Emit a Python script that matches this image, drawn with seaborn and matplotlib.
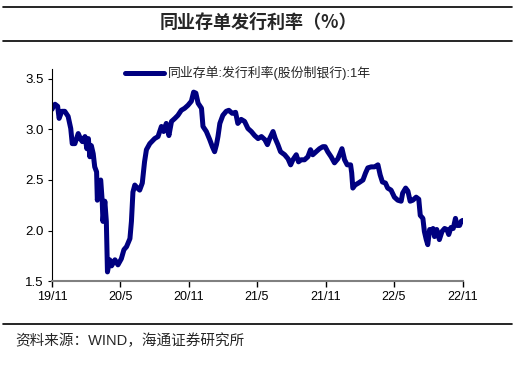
import pandas as pd
import numpy as np
import matplotlib
matplotlib.use('Agg')
import matplotlib.pyplot as plt
from matplotlib.lines import Line2D
import seaborn as sns

# 数据：同业存单发行利率（股份制银行，1年）
dates = [
    '2019-11-01', '2019-11-05', '2019-11-09', '2019-11-16', '2019-11-20', '2019-11-27',
    '2019-12-05', '2019-12-14', '2019-12-21', '2019-12-25', '2020-01-01', '2020-01-10',
    '2020-01-17', '2020-01-21', '2020-01-28', '2020-02-02', '2020-02-06', '2020-02-10',
    '2020-02-14', '2020-02-19', '2020-02-23', '2020-02-28', '2020-03-01', '2020-03-06',
    '2020-03-10', '2020-03-14', '2020-03-16', '2020-03-21', '2020-03-25', '2020-03-28',
    '2020-04-03', '2020-04-08', '2020-04-17', '2020-04-25', '2020-05-04', '2020-05-11',
    '2020-05-18', '2020-05-27', '2020-05-31', '2020-06-04', '2020-06-09', '2020-06-16',
    '2020-06-22', '2020-06-29', '2020-07-05', '2020-07-10', '2020-07-19', '2020-08-01',
    '2020-08-10', '2020-08-19', '2020-08-25', '2020-09-01', '2020-09-08', '2020-09-15',
    '2020-09-24', '2020-10-02', '2020-10-11', '2020-10-20', '2020-10-29', '2020-11-07',
    '2020-11-13', '2020-11-19', '2020-11-25', '2020-12-04', '2020-12-08', '2020-12-17',
    '2020-12-26', '2021-01-02', '2021-01-08', '2021-01-13', '2021-01-17', '2021-01-22',
    '2021-01-30', '2021-02-08', '2021-02-15', '2021-02-24', '2021-03-05', '2021-03-11',
    '2021-03-20', '2021-03-29', '2021-04-07', '2021-04-16', '2021-04-25', '2021-05-04',
    '2021-05-13', '2021-05-22', '2021-05-29', '2021-06-04', '2021-06-13', '2021-06-19',
    '2021-06-26', '2021-07-03', '2021-07-14', '2021-07-23', '2021-07-30', '2021-08-05',
    '2021-08-14', '2021-08-20', '2021-08-27', '2021-09-05', '2021-09-14', '2021-09-21',
    '2021-09-27', '2021-10-06', '2021-10-15', '2021-10-24', '2021-10-30', '2021-11-06',
    '2021-11-15', '2021-11-24', '2021-12-03', '2021-12-14', '2021-12-21', '2021-12-28',
    '2022-01-06', '2022-01-09', '2022-01-12', '2022-01-18', '2022-01-27', '2022-02-08',
    '2022-02-15', '2022-02-21', '2022-03-02', '2022-03-11', '2022-03-20', '2022-03-26',
    '2022-04-01', '2022-04-09', '2022-04-15', '2022-04-24', '2022-05-03', '2022-05-12',
    '2022-05-21', '2022-05-25', '2022-06-02', '2022-06-08', '2022-06-14', '2022-06-21',
    '2022-06-30', '2022-07-07', '2022-07-11', '2022-07-18', '2022-07-22', '2022-07-27',
    '2022-07-31', '2022-08-05', '2022-08-09', '2022-08-14', '2022-08-18', '2022-08-24',
    '2022-08-31', '2022-09-07', '2022-09-14', '2022-09-20', '2022-09-25', '2022-10-01',
    '2022-10-07', '2022-10-13', '2022-10-17', '2022-10-24', '2022-10-28', '2022-11-01',
]
rates = [
    3.20, 3.23, 3.25, 3.23, 3.11, 3.18,
    3.18, 3.13, 3.01, 2.86, 2.86, 2.96,
    2.90, 2.88, 2.93, 2.81, 2.91, 2.73,
    2.84, 2.76, 2.63, 2.58, 2.30, 2.48,
    2.50, 2.29, 2.09, 2.29, 2.09, 1.59,
    1.71, 1.65, 1.71, 1.66, 1.72, 1.81,
    1.84, 1.92, 2.09, 2.38, 2.45, 2.42,
    2.40, 2.47, 2.68, 2.80, 2.86, 2.91,
    2.93, 3.03, 2.98, 3.06, 2.94, 3.08,
    3.11, 3.14, 3.19, 3.21, 3.24, 3.28,
    3.37, 3.36, 3.26, 3.21, 3.03, 2.98,
    2.90, 2.83, 2.78, 2.85, 2.93, 3.06,
    3.14, 3.18, 3.19, 3.16, 3.17, 3.06,
    3.10, 3.08, 3.01, 2.98, 2.94, 2.91,
    2.93, 2.90, 2.85, 2.91, 2.98, 2.91,
    2.85, 2.78, 2.75, 2.71, 2.65, 2.70,
    2.75, 2.68, 2.70, 2.70, 2.73, 2.80,
    2.75, 2.78, 2.81, 2.83, 2.83, 2.78,
    2.73, 2.67, 2.71, 2.81, 2.70, 2.65,
    2.65, 2.57, 2.42, 2.45, 2.47, 2.50,
    2.57, 2.62, 2.63, 2.63, 2.65, 2.55,
    2.48, 2.47, 2.42, 2.40, 2.33, 2.30,
    2.29, 2.37, 2.42, 2.39, 2.29, 2.30,
    2.33, 2.31, 2.15, 2.12, 1.99, 1.91,
    1.86, 2.01, 1.99, 2.02, 1.94, 2.01,
    1.91, 1.99, 2.02, 2.01, 1.96, 2.03,
    2.02, 2.12, 2.05, 2.05, 2.09, 2.10,
]
tick_dates = ['2019-11-01', '2020-05-01', '2020-11-01', '2021-05-01',
              '2021-11-01', '2022-05-01', '2022-11-01']
tick_labels = ['19/11', '20/5', '20/11', '21/5', '21/11', '22/5', '22/11']
y_ticks = [1.5, 2.0, 2.5, 3.0, 3.5]
series_name = '同业存单:发行利率(股份制银行):1年'

df = pd.DataFrame({'date': pd.to_datetime(dates), 'rate': rates})

sns.set_style('white')
plt.rcParams['font.family'] = ['Liberation Sans', 'Noto Sans CJK SC']
plt.rcParams['axes.unicode_minus'] = False

fig = plt.figure(figsize=(5.16, 3.67), dpi=100)
ax = fig.add_axes([0.1008, 0.2343, 0.7957, 0.578])

sns.lineplot(data=df, x='date', y='rate', ax=ax, color='#000080',
             linewidth=3.6, label=series_name)

ax.set_xlim(pd.Timestamp(tick_dates[0]), pd.Timestamp(tick_dates[-1]))
ax.set_ylim(1.5, 3.6)
ax.set_xticks(pd.to_datetime(tick_dates))
ax.set_xticklabels(tick_labels)
ax.set_yticks(y_ticks)
ax.set_yticklabels([f'{v:.1f}' for v in y_ticks])
ax.set_xlabel('')
ax.set_ylabel('')

for s in ['top', 'right']:
    ax.spines[s].set_visible(False)
ax.spines['left'].set_color('black')
ax.spines['left'].set_linewidth(0.8)
ax.spines['bottom'].set_color('#808080')
ax.spines['bottom'].set_linewidth(1.5)
ax.tick_params(axis='y', direction='out', length=3, width=0.8, pad=3,
               labelsize=9.5, colors='black', left=True)
ax.tick_params(axis='x', direction='out', length=4, width=1.0, pad=3,
               labelsize=9, colors='black', bottom=True)
ax.grid(False)

leg = ax.legend(loc='center left', bbox_to_anchor=(0.242, 0.801),
                bbox_transform=fig.transFigure, frameon=False,
                borderpad=0, borderaxespad=0, handlelength=3.0,
                handletextpad=0.3, prop={'size': 9.3})

# 标题与分隔线
fig.add_artist(Line2D([0.006, 0.993], [0.981, 0.981], color='black', lw=1.2))
fig.add_artist(Line2D([0.006, 0.993], [0.888, 0.888], color='black', lw=1.2))
fig.add_artist(Line2D([0.006, 0.993], [0.117, 0.117], color='black', lw=1.2))
fig.text(0.5, 0.938, '同业存单发行利率（%）', ha='center', va='center',
         fontsize=13, fontweight='bold',
         family=['Noto Sans CJK SC', 'DejaVu Sans'])
fig.text(0.029, 0.071, '资料来源：WIND，海通证券研究所', ha='left', va='center',
         fontsize=10.5)

fig.savefig('out.png', dpi=100)
